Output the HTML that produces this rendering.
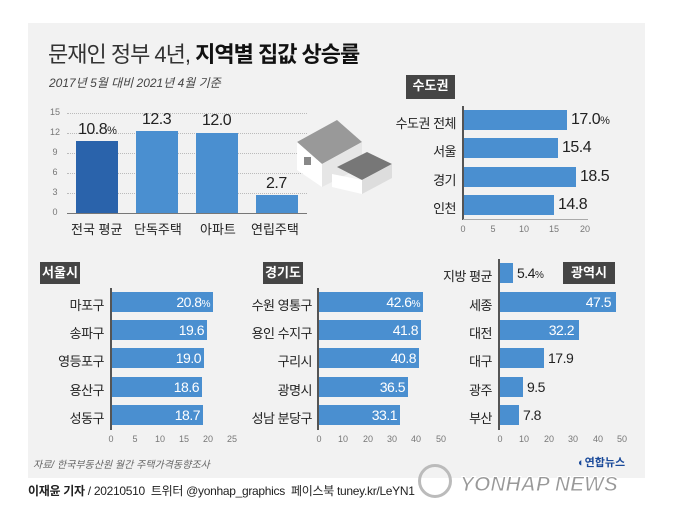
<!DOCTYPE html>
<html><head><meta charset="utf-8"><style>
body{margin:0;width:673px;height:526px;background:#fff;position:relative;overflow:hidden;font-family:"Liberation Sans","Noto Sans CJK KR",sans-serif;color:#222}
.a{position:absolute}
.bar{position:absolute;background:#4a8fd0}
.lbl{position:absolute;font-size:13px;text-align:right;width:90px;letter-spacing:-0.5px}
.val{position:absolute;font-size:14px;letter-spacing:-0.5px}
.in{position:absolute;font-size:14px;color:#fff;text-align:right;letter-spacing:-0.5px}
.tick{position:absolute;font-size:9px;color:#777;width:20px;text-align:center}
.box{position:absolute;background:#454545;color:#fff;font-size:13px;font-weight:bold;text-align:center;line-height:22px}
.ax{position:absolute;background:#555;width:2px}
.grid{position:absolute;border-top:1px dotted #bbb;left:67px;width:240px}
</style></head><body>
<div class="a" style="left:28px;top:23px;width:617px;height:455px;background:#f2f2f2"></div>
<div class="a" style="left:48px;top:37px;font-size:22px;color:#333;letter-spacing:-1px">문재인 정부 4년, <b style="color:#111">지역별 집값 상승률</b></div>
<div class="a" style="left:49px;top:74px;font-size:12px;font-style:italic;color:#444">2017년 5월 대비 2021년 4월 기준</div>
<!-- top chart -->
<div class="tick" style="left:45px;top:107px">15</div><div class="grid" style="top:113px"></div>
<div class="tick" style="left:45px;top:127px">12</div><div class="grid" style="top:133px"></div>
<div class="tick" style="left:45px;top:147px">9</div><div class="grid" style="top:153px"></div>
<div class="tick" style="left:45px;top:167px">6</div><div class="grid" style="top:173px"></div>
<div class="tick" style="left:45px;top:187px">3</div><div class="grid" style="top:193px"></div>
<div class="tick" style="left:45px;top:207px">0</div>
<div class="a" style="left:67px;top:213px;width:240px;height:1px;background:#777"></div>
<div class="bar" style="left:76px;top:141px;width:42px;height:72px;background:#2a63ab"></div>
<div class="bar" style="left:136px;top:131px;width:42px;height:82px"></div>
<div class="bar" style="left:196px;top:133px;width:42px;height:80px"></div>
<div class="bar" style="left:256px;top:195px;width:42px;height:18px"></div>
<div class="val" style="left:78px;top:121px;font-size:16px">10.8<span style="font-size:11px">%</span></div>
<div class="val" style="left:142px;top:111px;font-size:16px">12.3</div>
<div class="val" style="left:202px;top:112px;font-size:16px">12.0</div>
<div class="val" style="left:266px;top:175px;font-size:16px">2.7</div>
<div class="a" style="left:71px;top:219px;font-size:13px">전국 평균</div>
<div class="a" style="left:134px;top:219px;font-size:13px">단독주택</div>
<div class="a" style="left:200px;top:219px;font-size:13px">아파트</div>
<div class="a" style="left:251px;top:219px;font-size:13px">연립주택</div>
<!-- house -->
<svg class="a" style="left:292px;top:112px" width="110" height="85">
<polygon points="5,30 45,8 70,30 30,52" fill="#999"/>
<polygon points="5,30 30,52 30,75 5,58" fill="#fff"/>
<polygon points="30,52 70,30 70,55 30,75" fill="#e6e6e6"/>
<rect x="12" y="45" width="7" height="8" fill="#888"/>
<polygon points="45,55 75,40 100,52 70,68" fill="#777"/>
<polygon points="40,62 70,68 70,82 40,75" fill="#fff"/>
<polygon points="70,68 100,52 100,66 70,82" fill="#ddd"/>
</svg>
<!-- 수도권 -->
<div class="box" style="left:406px;top:75px;width:49px;height:24px">수도권</div>
<div class="ax" style="left:462px;top:106px;height:114px"></div>
<div class="a" style="left:463px;top:219px;width:125px;height:1px;background:#aaa"></div>
<div class="lbl" style="left:366px;top:113px">수도권 전체</div>
<div class="lbl" style="left:366px;top:141px">서울</div>
<div class="lbl" style="left:366px;top:170px">경기</div>
<div class="lbl" style="left:366px;top:198px">인천</div>
<div class="bar" style="left:464px;top:110px;width:103px;height:20px"></div>
<div class="bar" style="left:464px;top:138px;width:94px;height:20px"></div>
<div class="bar" style="left:464px;top:167px;width:112px;height:20px"></div>
<div class="bar" style="left:464px;top:195px;width:90px;height:20px"></div>
<div class="val" style="left:571px;top:111px;font-size:16px">17.0<span style="font-size:11px">%</span></div>
<div class="val" style="left:562px;top:139px;font-size:16px">15.4</div>
<div class="val" style="left:580px;top:168px;font-size:16px">18.5</div>
<div class="val" style="left:558px;top:196px;font-size:16px">14.8</div>
<div class="tick" style="left:453px;top:224px">0</div><div class="tick" style="left:483px;top:224px">5</div><div class="tick" style="left:514px;top:224px">10</div><div class="tick" style="left:544px;top:224px">15</div><div class="tick" style="left:575px;top:224px">20</div>
<!-- 서울시 -->
<div class="box" style="left:40px;top:262px;width:40px;height:22px">서울시</div>
<div class="ax" style="left:110px;top:288px;height:142px"></div>
<div class="lbl" style="left:14px;top:295px">마포구</div>
<div class="lbl" style="left:14px;top:323px">송파구</div>
<div class="lbl" style="left:14px;top:351px">영등포구</div>
<div class="lbl" style="left:14px;top:380px">용산구</div>
<div class="lbl" style="left:14px;top:408px">성동구</div>
<div class="bar" style="left:112px;top:292px;width:101px;height:20px"></div>
<div class="bar" style="left:112px;top:320px;width:95px;height:20px"></div>
<div class="bar" style="left:112px;top:348px;width:92px;height:20px"></div>
<div class="bar" style="left:112px;top:377px;width:90px;height:20px"></div>
<div class="bar" style="left:112px;top:405px;width:91px;height:20px"></div>
<div class="in" style="left:140px;top:294px;width:70px">20.8<span style="font-size:10px">%</span></div>
<div class="in" style="left:134px;top:322px;width:70px">19.6</div>
<div class="in" style="left:131px;top:350px;width:70px">19.0</div>
<div class="in" style="left:129px;top:379px;width:70px">18.6</div>
<div class="in" style="left:130px;top:407px;width:70px">18.7</div>
<div class="tick" style="left:101px;top:434px">0</div><div class="tick" style="left:125px;top:434px">5</div><div class="tick" style="left:150px;top:434px">10</div><div class="tick" style="left:174px;top:434px">15</div><div class="tick" style="left:198px;top:434px">20</div><div class="tick" style="left:222px;top:434px">25</div>
<!-- 경기도 -->
<div class="box" style="left:263px;top:262px;width:40px;height:22px">경기도</div>
<div class="ax" style="left:317px;top:288px;height:142px"></div>
<div class="lbl" style="left:222px;top:295px">수원 영통구</div>
<div class="lbl" style="left:222px;top:323px">용인 수지구</div>
<div class="lbl" style="left:222px;top:351px">구리시</div>
<div class="lbl" style="left:222px;top:380px">광명시</div>
<div class="lbl" style="left:222px;top:408px">성남 분당구</div>
<div class="bar" style="left:319px;top:292px;width:104px;height:20px"></div>
<div class="bar" style="left:319px;top:320px;width:102px;height:20px"></div>
<div class="bar" style="left:319px;top:348px;width:100px;height:20px"></div>
<div class="bar" style="left:319px;top:377px;width:89px;height:20px"></div>
<div class="bar" style="left:319px;top:405px;width:81px;height:20px"></div>
<div class="in" style="left:350px;top:294px;width:70px">42.6<span style="font-size:10px">%</span></div>
<div class="in" style="left:348px;top:322px;width:70px">41.8</div>
<div class="in" style="left:346px;top:350px;width:70px">40.8</div>
<div class="in" style="left:335px;top:379px;width:70px">36.5</div>
<div class="in" style="left:327px;top:407px;width:70px">33.1</div>
<div class="tick" style="left:309px;top:434px">0</div><div class="tick" style="left:333px;top:434px">10</div><div class="tick" style="left:358px;top:434px">20</div><div class="tick" style="left:382px;top:434px">30</div><div class="tick" style="left:406px;top:434px">40</div><div class="tick" style="left:431px;top:434px">50</div>
<!-- 광역시 -->
<div class="box" style="left:563px;top:262px;width:52px;height:22px">광역시</div>
<div class="ax" style="left:498px;top:259px;height:171px"></div>
<div class="lbl" style="left:402px;top:266px">지방 평균</div>
<div class="lbl" style="left:402px;top:295px">세종</div>
<div class="lbl" style="left:402px;top:323px">대전</div>
<div class="lbl" style="left:402px;top:351px">대구</div>
<div class="lbl" style="left:402px;top:380px">광주</div>
<div class="lbl" style="left:402px;top:408px">부산</div>
<div class="bar" style="left:500px;top:263px;width:13px;height:20px"></div>
<div class="bar" style="left:500px;top:292px;width:116px;height:20px"></div>
<div class="bar" style="left:500px;top:320px;width:79px;height:20px"></div>
<div class="bar" style="left:500px;top:348px;width:44px;height:20px"></div>
<div class="bar" style="left:500px;top:377px;width:23px;height:20px"></div>
<div class="bar" style="left:500px;top:405px;width:19px;height:20px"></div>
<div class="val" style="left:517px;top:265px">5.4<span style="font-size:10px">%</span></div>
<div class="in" style="left:541px;top:294px;width:70px">47.5</div>
<div class="in" style="left:504px;top:322px;width:70px">32.2</div>
<div class="val" style="left:548px;top:350px">17.9</div>
<div class="val" style="left:527px;top:379px">9.5</div>
<div class="val" style="left:523px;top:407px">7.8</div>
<div class="tick" style="left:490px;top:434px">0</div><div class="tick" style="left:514px;top:434px">10</div><div class="tick" style="left:539px;top:434px">20</div><div class="tick" style="left:563px;top:434px">30</div><div class="tick" style="left:588px;top:434px">40</div><div class="tick" style="left:612px;top:434px">50</div>
<!-- footer -->
<div class="a" style="left:33px;top:456px;font-size:10px;font-style:italic;color:#666">자료/ 한국부동산원 월간 주택가격동향조사</div>
<div class="a" style="left:578px;top:454px;font-size:11px;font-weight:bold;color:#1a4a9a">◐연합뉴스</div>
<div class="a" style="left:28px;top:482px;font-size:12px;color:#222;letter-spacing:-0.3px"><b>이재윤 기자</b> / 20210510 &nbsp;트위터 @yonhap_graphics &nbsp;페이스북 tuney.kr/LeYN1</div>
<div class="a" style="left:418px;top:464px;width:34px;height:34px;border-radius:50%;border:3px solid #bbb;box-sizing:border-box"></div>
<div class="a" style="left:460px;top:473px;font-size:21px;font-weight:bold;font-style:italic;color:#999;-webkit-text-stroke:1px #fff">YONHAP NEWS</div>
</body></html>
